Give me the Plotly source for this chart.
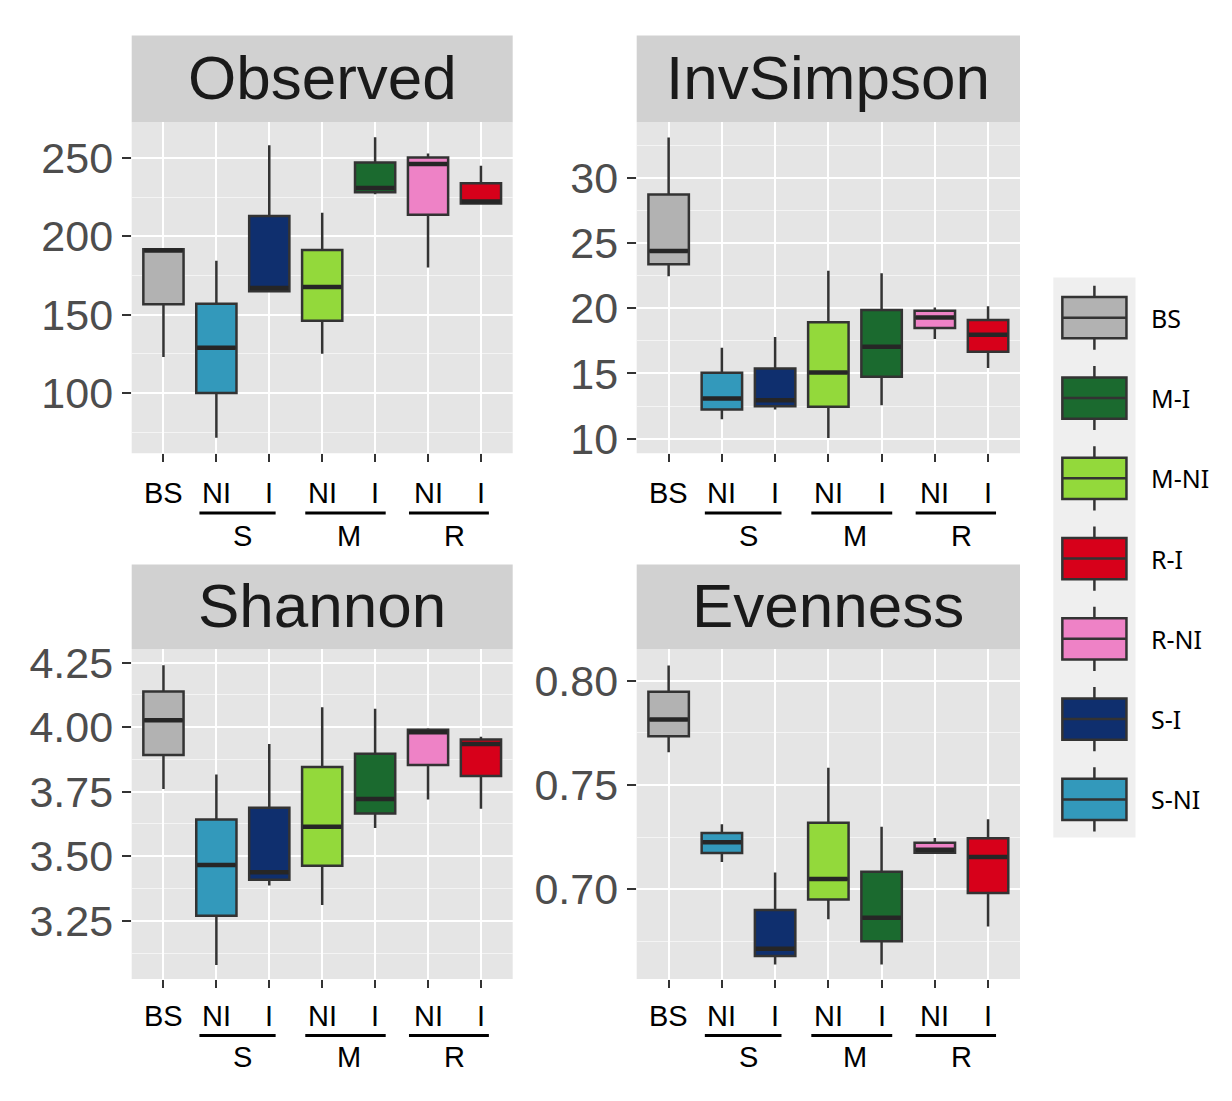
import plotly.graph_objects as go

W, H = 1232, 1101
OFF = 8  # the page body adds an 8px margin around the figure

groups = ["BS", "S-NI", "S-I", "M-NI", "M-I", "R-NI", "R-I"]
colors = ["#b2b2b2", "#3399bb", "#0f2f6e", "#93d93b", "#1b6a2f", "#ee82c6", "#d7001a"]
xlabels = ["BS", "NI", "I", "NI", "I", "NI", "I"]
group_labels = ["S", "M", "R"]
group_centers = [1.5, 3.5, 5.5]
group_spans = [(0.68, 2.12), (2.68, 4.2), (4.64, 6.15)]
legend_order = ["BS", "M-I", "M-NI", "R-I", "R-NI", "S-I", "S-NI"]

# Observed
obs_low = [123, 71.3, 164.5, 125, 227, 180.2, 221]
obs_q1 = [156.6, 100, 165, 146.1, 228.2, 213.8, 221]
obs_med = [191, 128.9, 167, 167.7, 231, 246.2, 222.3]
obs_q3 = [191.8, 157, 213.1, 191.3, 247.3, 250.4, 234]
obs_up = [192, 184.4, 258.2, 215.2, 263.4, 253, 245.2]
# InvSimpson
inv_low = [22.45, 11.48, 12.24, 10.05, 12.57, 17.65, 15.41]
inv_q1 = [23.38, 12.24, 12.49, 12.44, 14.75, 18.48, 16.67]
inv_med = [24.39, 13.07, 12.94, 15.08, 17.04, 19.3, 17.97]
inv_q3 = [28.74, 15.06, 15.38, 18.93, 19.86, 19.81, 19.1]
inv_up = [33.1, 16.97, 17.8, 22.88, 22.68, 20.06, 20.16]
# Shannon
sha_low = [3.76, 3.079, 3.387, 3.311, 3.609, 3.72, 3.684]
sha_q1 = [3.892, 3.269, 3.409, 3.463, 3.666, 3.853, 3.811]
sha_med = [4.027, 3.466, 3.438, 3.614, 3.722, 3.98, 3.935]
sha_q3 = [4.138, 3.642, 3.688, 3.846, 3.897, 3.99, 3.952]
sha_up = [4.24, 3.817, 3.935, 4.077, 4.071, 3.996, 3.963]
# Evenness
eve_low = [0.7657, 0.713, 0.6638, 0.6855, 0.6638, 0.717, 0.6821]
eve_q1 = [0.7734, 0.7173, 0.6679, 0.695, 0.675, 0.7175, 0.6981]
eve_med = [0.7814, 0.7225, 0.6714, 0.7049, 0.6863, 0.7189, 0.7154]
eve_q3 = [0.7948, 0.7269, 0.690, 0.7319, 0.7083, 0.7222, 0.7244]
eve_up = [0.8074, 0.7311, 0.708, 0.7583, 0.7299, 0.7245, 0.7335]

obs_ticks = [100, 150, 200, 250]
obs_minor = [75, 125, 175, 225]
inv_ticks = [10, 15, 20, 25, 30]
inv_minor = [12.5, 17.5, 22.5, 27.5, 32.5]
sha_ticks = [3.25, 3.50, 3.75, 4.00, 4.25]
sha_minor = [3.125, 3.375, 3.625, 3.875, 4.125]
eve_ticks = [0.70, 0.75, 0.80]
eve_minor = [0.675, 0.725, 0.775]


def px_x(v):
    return (v - OFF) / W


def px_y(v):
    return 1 - (v - OFF) / H


panels = [
    dict(name="Observed", low=obs_low, q1=obs_q1, med=obs_med, q3=obs_q3, up=obs_up,
         ticks=obs_ticks, minor=obs_minor, fmt="d", rng=[61.4, 273.0],
         xd=[131.7, 512.7], yd=[114, 451], strip=[25.7, 114], labrow=[491, 511.7, 535]),
    dict(name="InvSimpson", low=inv_low, q1=inv_q1, med=inv_med, q3=inv_q3, up=inv_up,
         ticks=inv_ticks, minor=inv_minor, fmt="d", rng=[8.87, 34.28],
         xd=[636.7, 1020], yd=[114, 451], strip=[25.7, 114], labrow=[491, 511.7, 535]),
    dict(name="Shannon", low=sha_low, q1=sha_q1, med=sha_med, q3=sha_q3, up=sha_up,
         ticks=sha_ticks, minor=sha_minor, fmt=".2f", rng=[3.024, 4.303],
         xd=[131.7, 512.7], yd=[650, 986], strip=[564, 650], labrow=[1023.3, 1043.3, 1065]),
    dict(name="Evenness", low=eve_low, q1=eve_q1, med=eve_med, q3=eve_q3, up=eve_up,
         ticks=eve_ticks, minor=eve_minor, fmt=".2f", rng=[0.6568, 0.8153],
         xd=[636.7, 1020], yd=[650, 986], strip=[564, 650], labrow=[1023.3, 1043.3, 1065]),
]

fig = go.Figure()
shapes = []
annotations = []
FONT = "Liberation Sans, Arial, Helvetica, sans-serif"

for i, p in enumerate(panels):
    n = i + 1
    xa = "x" if n == 1 else f"x{n}"
    ya = "y" if n == 1 else f"y{n}"
    xkey = "xaxis" if n == 1 else f"xaxis{n}"
    ykey = "yaxis" if n == 1 else f"yaxis{n}"
    for j, g in enumerate(groups):
        fig.add_trace(go.Box(
            x=[j], q1=[p["q1"][j]], median=[p["med"][j]], q3=[p["q3"][j]],
            lowerfence=[p["low"][j]], upperfence=[p["up"][j]],
            fillcolor=colors[j], line=dict(color="#333333", width=2.5),
            whiskerwidth=0, width=0.76, boxpoints=False, name=g,
            xaxis=xa, yaxis=ya, showlegend=False,
        ))
        fig.add_trace(go.Scatter(
            x=[j], y=[p["med"][j]], mode="markers", xaxis=xa, yaxis=ya,
            marker=dict(symbol="line-ew", size=27.5, line=dict(width=4.5, color="#262626")),
            showlegend=False, hoverinfo="skip",
        ))
    fig.layout[xkey] = dict(
        domain=[px_x(p["xd"][0]), px_x(p["xd"][1])], anchor=ya,
        range=[-0.6, 6.6], tickvals=list(range(7)), showticklabels=False,
        ticks="outside", ticklen=8, tickwidth=2, tickcolor="#333333",
        showgrid=True, gridcolor="white", gridwidth=2, zeroline=False, showline=False,
        fixedrange=True,
    )
    fig.layout[ykey] = dict(
        domain=[px_y(p["yd"][1]), px_y(p["yd"][0])], anchor=xa,
        range=p["rng"], tickvals=p["ticks"], tickformat=p["fmt"],
        ticks="outside", ticklen=9, tickwidth=2, tickcolor="#333333",
        tickfont=dict(family=FONT, size=43, color="#4d4d4d"),
        showgrid=True, gridcolor="white", gridwidth=2, zeroline=False, showline=False,
        minor=dict(tickvals=p["minor"], showgrid=True, gridcolor="#f4f4f4", gridwidth=1, ticks=""),
        fixedrange=True,
    )
    # panel background
    shapes.append(dict(type="rect", xref=f"{xa} domain", yref=f"{ya} domain",
                       x0=0, x1=1, y0=0, y1=1, fillcolor="#e5e5e5",
                       line=dict(width=0), layer="below"))
    # strip
    shapes.append(dict(type="rect", xref="paper", yref="paper",
                       x0=px_x(p["xd"][0]), x1=px_x(p["xd"][1]),
                       y0=px_y(p["strip"][1]), y1=px_y(p["strip"][0]),
                       fillcolor="#d1d1d1", line=dict(width=0), layer="below"))
    annotations.append(dict(text=p["name"], xref=f"{xa} domain", x=0.5,
                            yref="paper", y=px_y((p["strip"][0] + p["strip"][1]) / 2 - 1),
                            xanchor="center", yanchor="middle", showarrow=False,
                            font=dict(family=FONT, size=62, color="#1a1a1a")))
    # x labels
    for j, lab in enumerate(xlabels):
        annotations.append(dict(text=lab, xref=xa, x=j, yref="paper", y=px_y(p["labrow"][0]),
                                xanchor="center", yanchor="middle", showarrow=False,
                                font=dict(family=FONT, size=29, color="#000000")))
    for (a, b), c, gl in zip(group_spans, group_centers, group_labels):
        shapes.append(dict(type="line", xref=xa, yref="paper", x0=a, x1=b,
                           y0=px_y(p["labrow"][1]), y1=px_y(p["labrow"][1]),
                           line=dict(color="#000000", width=3)))
        annotations.append(dict(text=gl, xref=xa, x=c, yref="paper", y=px_y(p["labrow"][2]),
                                xanchor="center", yanchor="middle", showarrow=False,
                                font=dict(family=FONT, size=29, color="#000000")))

# custom legend drawn as its own small subplot
lx, ly = "x5", "y5"
for k, g in enumerate(legend_order):
    j = groups.index(g)
    fig.add_trace(go.Box(
        x=[0], q1=[k - 0.257], median=[k], q3=[k + 0.257],
        lowerfence=[k - 0.40], upperfence=[k + 0.40],
        fillcolor=colors[j], line=dict(color="#333333", width=2.5),
        whiskerwidth=0, width=0.78, boxpoints=False, name=g,
        xaxis=lx, yaxis=ly, showlegend=False, hoverinfo="skip",
    ))
    annotations.append(dict(text=g, xref="paper", x=px_x(1149), yref=ly, y=k,
                            xanchor="left", yanchor="middle", showarrow=False,
                            font=dict(family="Noto Sans, Open Sans, sans-serif", size=25,
                                      color="#000000")))
fig.layout["xaxis5"] = dict(domain=[px_x(1053.3), px_x(1135.5)], anchor=ly, range=[-0.5, 0.5],
                            visible=False, fixedrange=True)
fig.layout["yaxis5"] = dict(domain=[px_y(842), px_y(272)], anchor=lx, range=[6.476, -0.502],
                            visible=False, fixedrange=True)
shapes.append(dict(type="rect", xref="x5 domain", yref="y5 domain", x0=0, x1=1, y0=0, y1=1,
                   fillcolor="#efefef", line=dict(width=0), layer="below"))

fig.update_layout(
    width=W, height=H, margin=dict(l=0, r=0, t=0, b=0),
    paper_bgcolor="white", plot_bgcolor="rgba(0,0,0,0)",
    shapes=shapes, annotations=annotations, showlegend=False,
    boxmode="overlay",
)

fig.write_html("out.html")
